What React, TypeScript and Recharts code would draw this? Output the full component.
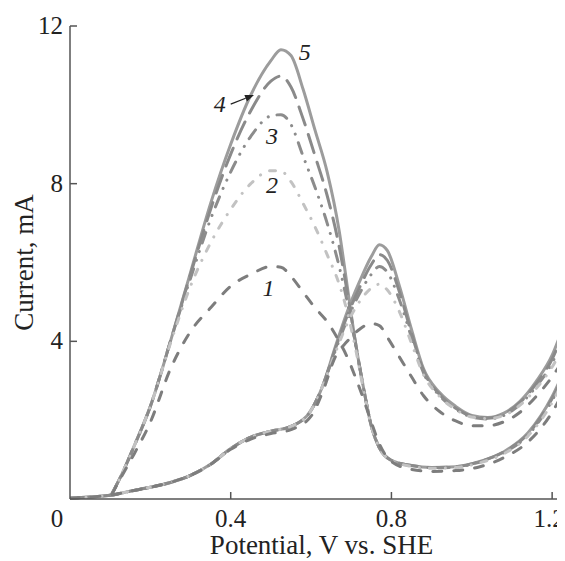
import { LineChart, Line, XAxis, YAxis, ReferenceDot, ReferenceLine } from "recharts";

const FONT = '"Liberation Serif", "Times New Roman", serif';
const AXIS = "#555";
const TEXT = "#222";

// forward scan (lower branch), potential in V
const forwardPotential = [
  0, 0.05, 0.104, 0.15, 0.2, 0.25, 0.3, 0.35, 0.4, 0.45, 0.5, 0.55, 0.6, 0.63, 0.66, 0.69,
  0.72, 0.75, 0.77, 0.79, 0.82, 0.85, 0.88, 0.92, 0.96, 1.0, 1.04, 1.08, 1.12, 1.16, 1.2, 1.232,
];
const forward1 = [
  0.02, 0.05, 0.1, 0.2, 0.3, 0.42, 0.6, 0.88, 1.26, 1.52, 1.66, 1.76, 2.1, 2.75, 3.6, 4.0,
  4.3, 4.45, 4.4, 4.1, 3.6, 3.1, 2.62, 2.22, 1.98, 1.86, 1.86, 1.96, 2.2, 2.6, 3.1, 3.6,
];
const forward2 = [
  0.02, 0.05, 0.1, 0.2, 0.3, 0.42, 0.6, 0.88, 1.28, 1.57, 1.72, 1.84, 2.25, 2.9, 3.7, 4.45,
  5.0, 5.35, 5.45, 5.3, 4.75, 3.95, 3.15, 2.6, 2.27, 2.08, 2.04, 2.12, 2.38, 2.8, 3.35, 3.95,
];
const forward3 = [
  0.02, 0.05, 0.1, 0.2, 0.3, 0.42, 0.6, 0.88, 1.28, 1.57, 1.72, 1.84, 2.25, 2.9, 3.75, 4.55,
  5.2, 5.7, 5.9, 5.75, 5.05, 4.1, 3.2, 2.62, 2.28, 2.08, 2.03, 2.12, 2.4, 2.85, 3.45, 4.2,
];
const forward4 = [
  0.02, 0.05, 0.1, 0.2, 0.3, 0.42, 0.6, 0.88, 1.28, 1.57, 1.72, 1.84, 2.25, 2.9, 3.8, 4.65,
  5.35, 5.95, 6.2, 6.05, 5.25, 4.2, 3.25, 2.65, 2.3, 2.1, 2.05, 2.15, 2.45, 2.92, 3.55, 4.35,
];
const forward5 = [
  0.02, 0.05, 0.1, 0.2, 0.3, 0.42, 0.6, 0.88, 1.28, 1.57, 1.72, 1.84, 2.25, 2.9, 3.85, 4.75,
  5.5, 6.15, 6.45, 6.3, 5.4, 4.3, 3.3, 2.7, 2.35, 2.12, 2.07, 2.18, 2.48, 2.98, 3.65, 4.5,
];

// reverse scan (upper branch with the big peak)
const reversePotential = [
  0.104, 0.13, 0.16, 0.2, 0.25, 0.3, 0.35, 0.4, 0.45, 0.5, 0.525, 0.55, 0.58, 0.61, 0.64, 0.67,
  0.69, 0.71, 0.73, 0.75, 0.77, 0.8, 0.85, 0.9, 0.96, 1.02, 1.08, 1.14, 1.2, 1.232,
];
const reverse1 = [
  0.12, 0.6, 1.15, 1.95, 3.3, 4.25, 4.85, 5.4, 5.7, 5.9, 5.88, 5.65, 5.25, 4.85, 4.5, 4.0,
  3.6, 3.1, 2.55, 1.95, 1.4, 0.95, 0.75, 0.7, 0.72, 0.82, 1.05, 1.45, 2.2, 2.8,
];
const reverse2 = [
  0.12, 0.65, 1.35, 2.35, 3.95, 5.4, 6.5, 7.35, 8.0, 8.33, 8.32, 8.05, 7.5, 6.9, 6.2, 5.45,
  4.75, 3.85, 2.8, 1.85, 1.3, 0.97, 0.83, 0.78, 0.8, 0.92, 1.15, 1.6, 2.45, 3.1,
];
const reverse3 = [
  0.12, 0.65, 1.35, 2.35, 4.0, 5.6, 7.1, 8.3, 9.2, 9.72, 9.75, 9.5, 8.7, 7.9, 7.0, 5.9,
  5.0, 3.95, 2.85, 1.85, 1.3, 0.98, 0.84, 0.79, 0.81, 0.94, 1.18, 1.62, 2.5, 3.15,
];
const reverse4 = [
  0.12, 0.65, 1.35, 2.35, 4.0, 5.7, 7.35, 8.75, 9.85, 10.6, 10.73, 10.45, 9.65, 8.7, 7.7, 6.4,
  5.25, 4.0, 2.85, 1.85, 1.3, 0.98, 0.85, 0.8, 0.82, 0.95, 1.2, 1.65, 2.55, 3.2,
];
const reverse5 = [
  0.12, 0.65, 1.35, 2.35, 4.0, 5.75, 7.5, 9.0, 10.25, 11.12, 11.4, 11.25, 10.4, 9.35, 8.3, 6.8,
  5.4, 4.0, 2.85, 1.85, 1.3, 0.98, 0.85, 0.8, 0.82, 0.95, 1.2, 1.68, 2.6, 3.3,
];

const xTicks = [0, 0.4, 0.8, 1.2];
const yTicks = [0, 4, 8, 12];

const toPoints = (vs: number[], is: number[]) => vs.map((v, k) => ({ v, i: is[k] }));

const curves = [
  { id: "5", fwd: forward5, rev: reverse5, color: "#9c9c9c", dash: undefined },
  { id: "4", fwd: forward4, rev: reverse4, color: "#8a8a8a", dash: "19 10" },
  { id: "3", fwd: forward3, rev: reverse3, color: "#8c8c8c", dash: "11 9 0.1 9 0.1 9" },
  { id: "2", fwd: forward2, rev: reverse2, color: "#c2c2c2", dash: "6 10 0.1 10" },
  { id: "1", fwd: forward1, rev: reverse1, color: "#7d7d7d", dash: "9 12" },
];

function XTick({ x, y, payload }: any) {
  const v = payload.value;
  // the last label sits at the right edge, keep it inside the picture
  const dx = v === 0 ? -13 : v === 1.2 ? -3 : 0;
  return (
    <g>
      {v !== 0 && <line x1={x} y1={y} x2={x} y2={y - 7} stroke={AXIS} strokeWidth={1.5} />}
      <text x={x + dx} y={y + 28} textAnchor="middle" fontFamily={FONT} fontSize={25} fill={TEXT}>
        {String(v)}
      </text>
    </g>
  );
}

function YTick({ x, y, payload }: any) {
  const v = payload.value;
  if (v === 0) return <g />;
  return (
    <g>
      <line x1={x} y1={y} x2={x + 7} y2={y} stroke={AXIS} strokeWidth={1.5} />
      <text x={x - 7} y={y + 8} textAnchor="end" fontFamily={FONT} fontSize={25} fill={TEXT}>
        {String(v)}
      </text>
    </g>
  );
}

const curveLabel = (text: string) => (p: any) => (
  <text x={p.cx} y={p.cy} textAnchor="middle" dominantBaseline="central" fontFamily={FONT}
    fontStyle="italic" fontSize={24} fill={TEXT}>
    {text}
  </text>
);

function Arrow(p: any) {
  const { x1, y1, x2, y2 } = p;
  const a = Math.atan2(y2 - y1, x2 - x1);
  const len = 9;
  const w = 3.5;
  const bx = x2 - len * Math.cos(a);
  const by = y2 - len * Math.sin(a);
  const pts = [
    `${x2},${y2}`,
    `${bx - w * Math.sin(a)},${by + w * Math.cos(a)}`,
    `${bx + w * Math.sin(a)},${by - w * Math.cos(a)}`,
  ].join(" ");
  return (
    <g>
      <line x1={x1} y1={y1} x2={bx} y2={by} stroke={TEXT} strokeWidth={1.3} />
      <polygon points={pts} fill={TEXT} />
    </g>
  );
}

export default function App() {
  return (
    <LineChart width={557} height={553} margin={{ top: 18, right: 0, bottom: 0, left: 0 }}>
      <XAxis
        type="number"
        dataKey="v"
        domain={[0, 1.232]}
        ticks={xTicks}
        allowDataOverflow
        height={62}
        tickSize={0}
        tickMargin={0}
        tickLine={false}
        tick={<XTick />}
        axisLine={{ stroke: AXIS, strokeWidth: 1.5 }}
        label={{ value: "Potential, V vs. SHE", position: "insideBottom", offset: 7, dx: 4, fill: TEXT, fontSize: 27, fontFamily: FONT }}
      />
      <YAxis
        type="number"
        domain={[0, 12]}
        ticks={yTicks}
        width={62}
        tickSize={0}
        tickMargin={0}
        tickLine={false}
        tick={<YTick />}
        axisLine={{ stroke: AXIS, strokeWidth: 1.5 }}
        label={{ value: "Current, mA", angle: -90, position: "insideLeft", offset: 15, fill: TEXT, fontSize: 27, fontFamily: FONT, style: { textAnchor: "middle" } }}
      />
      {curves.map((c) => [
        <Line key={c.id + "f"} data={toPoints(forwardPotential, c.fwd)} dataKey="i" type="monotone"
          stroke={c.color} strokeWidth={3} strokeDasharray={c.dash} strokeLinecap="round"
          dot={false} activeDot={false} isAnimationActive={false} />,
        <Line key={c.id + "r"} data={toPoints(reversePotential, c.rev)} dataKey="i" type="monotone"
          stroke={c.color} strokeWidth={3} strokeDasharray={c.dash} strokeLinecap="round"
          dot={false} activeDot={false} isAnimationActive={false} />,
      ])}
      <ReferenceDot x={0.584} y={11.35} r={0} shape={curveLabel("5")} />
      <ReferenceDot x={0.373} y={10.02} r={0} shape={curveLabel("4")} />
      <ReferenceDot x={0.503} y={9.2} r={0} shape={curveLabel("3")} />
      <ReferenceDot x={0.503} y={7.96} r={0} shape={curveLabel("2")} />
      <ReferenceDot x={0.494} y={5.36} r={0} shape={curveLabel("1")} />
      <ReferenceLine segment={[{ x: 0.4, y: 10.02 }, { x: 0.458, y: 10.25 }]} shape={Arrow} />
    </LineChart>
  );
}
